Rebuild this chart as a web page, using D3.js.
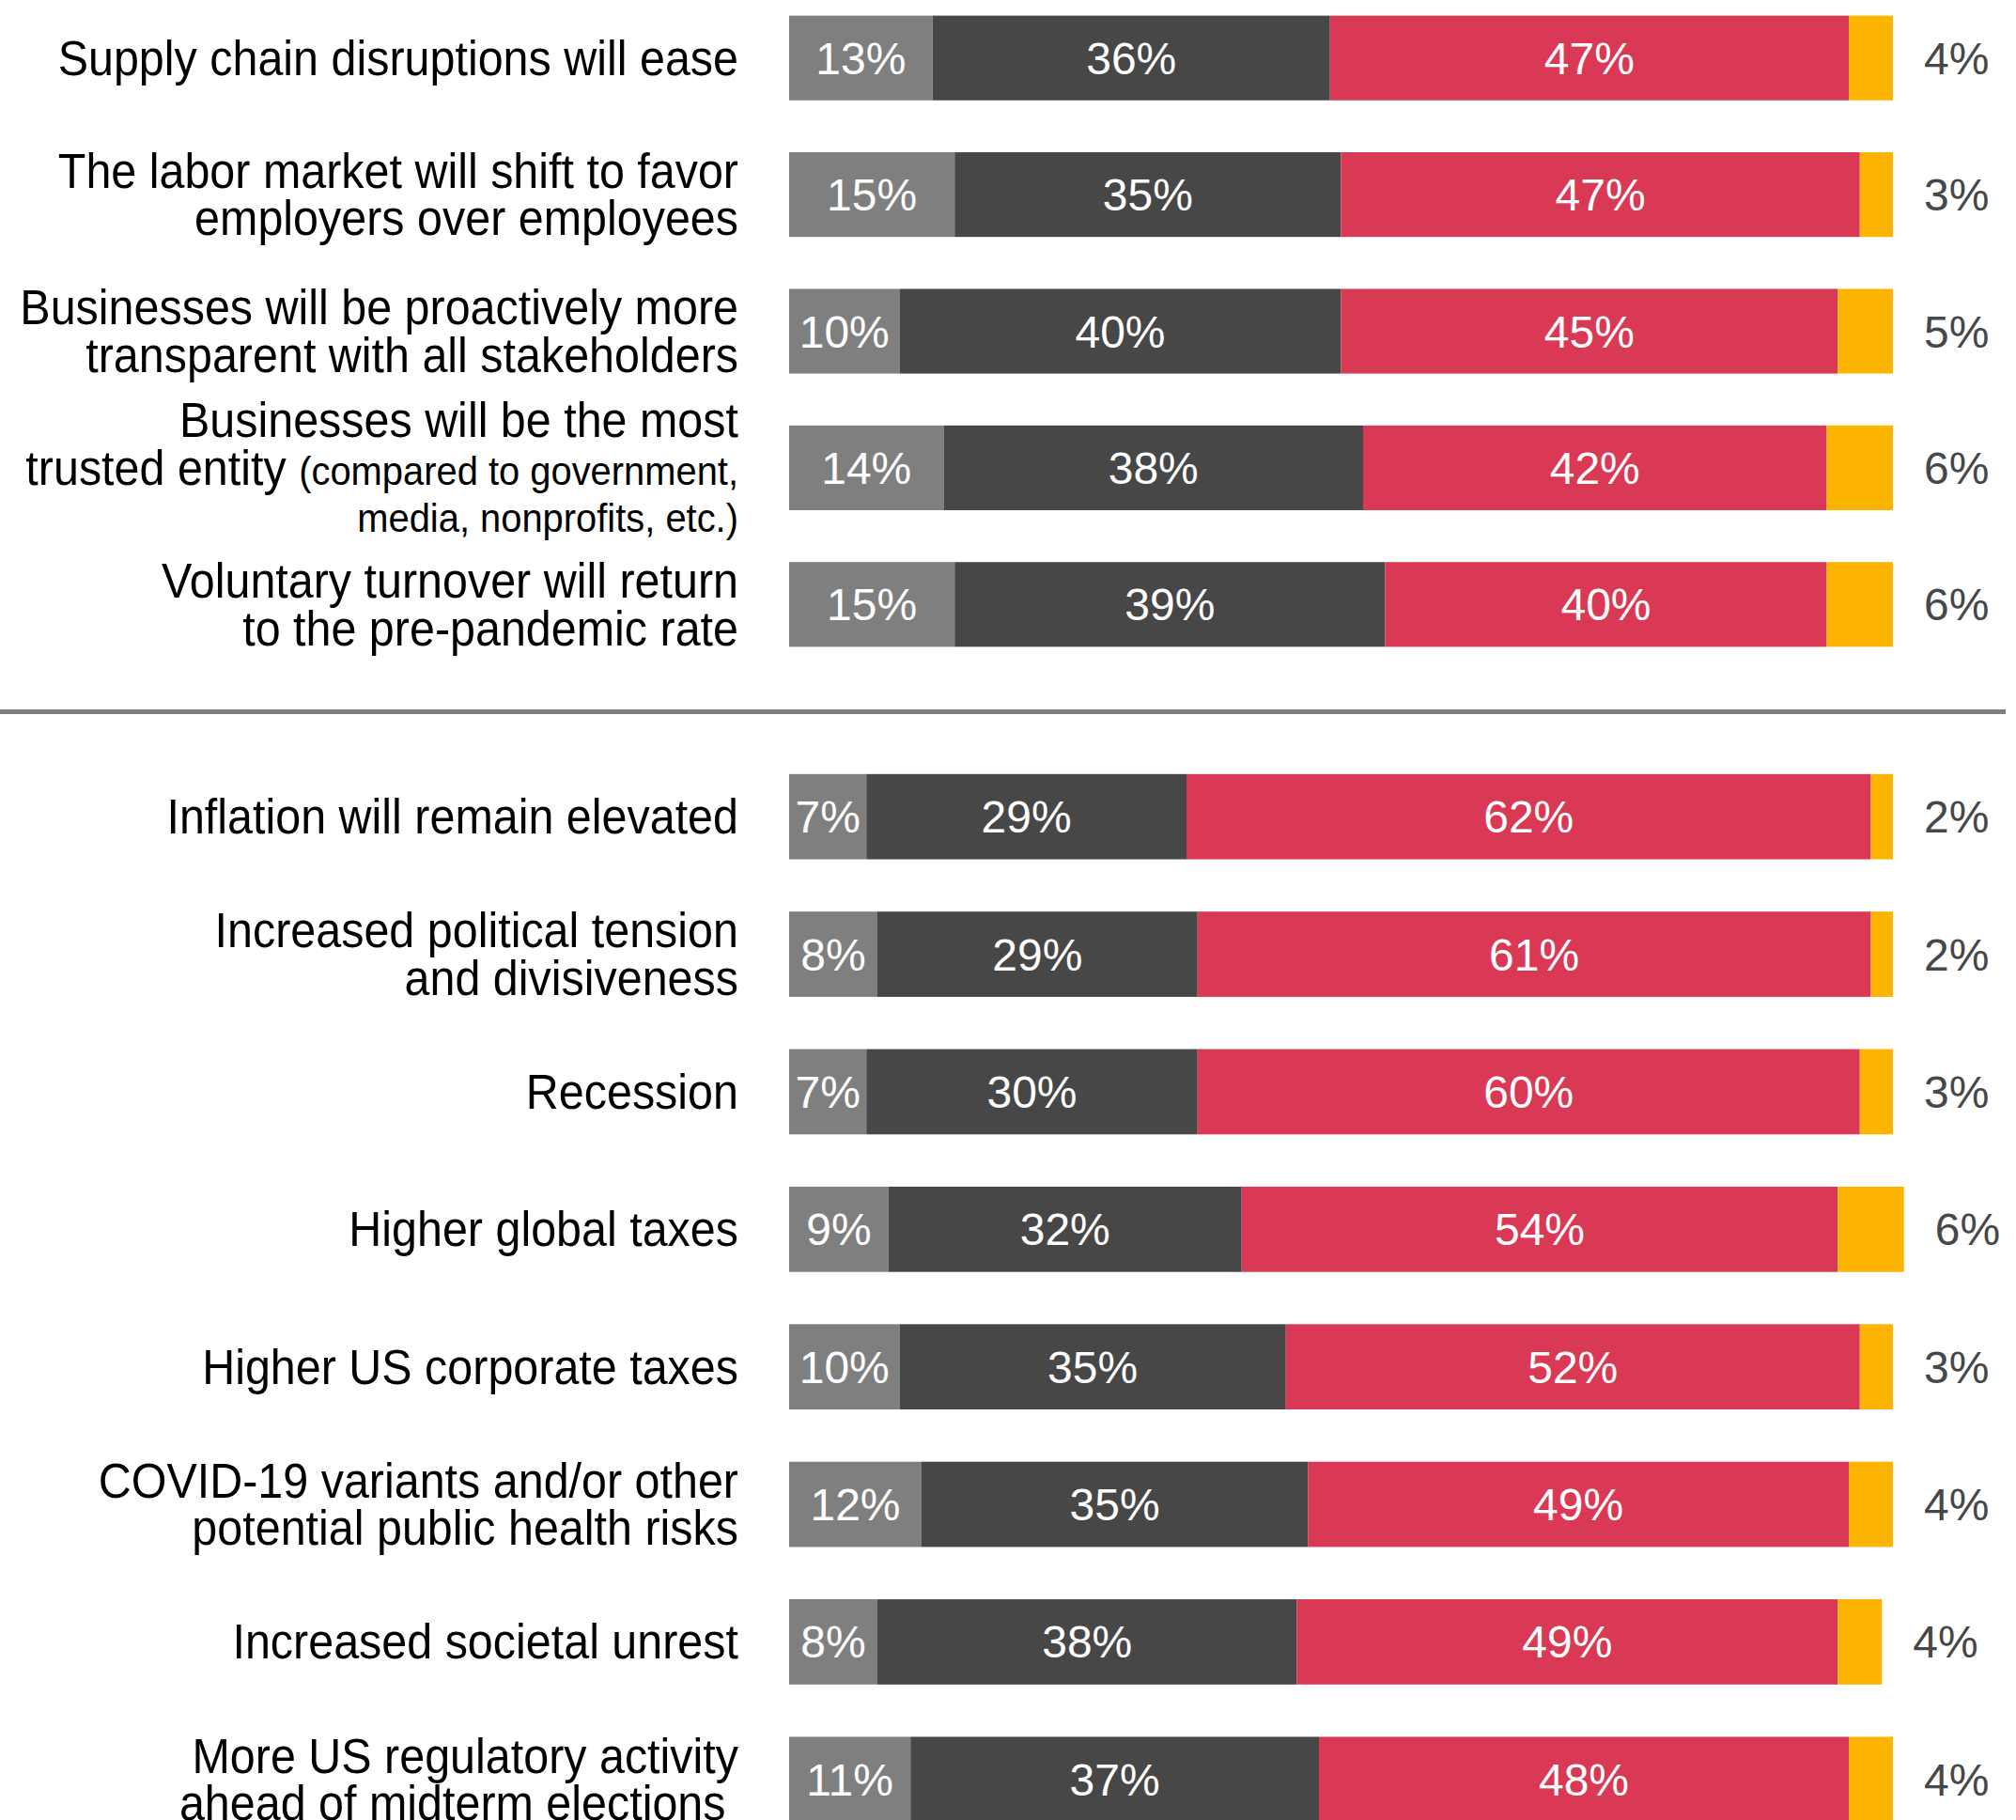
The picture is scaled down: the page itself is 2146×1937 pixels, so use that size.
<!DOCTYPE html>
<html>
<head>
<meta charset="utf-8">
<script src="https://cdn.jsdelivr.net/npm/d3@7"></script>
<style>
  body { margin: 0; background: #fff; }
  svg { display: block; }
</style>
</head>
<body>
<div id="chart"></div>
<script>
// labels: "|" breaks a line, [..] is set in the smaller font
const categories = [
  "Supply chain disruptions will ease",
  "The labor market will shift to favor|employers over employees",
  "Businesses will be proactively more|transparent with all stakeholders",
  "Businesses will be the most|trusted entity [(compared to government,]|[media, nonprofits, etc.)]",
  "Voluntary turnover will return|to the pre-pandemic rate",
  "Inflation will remain elevated",
  "Increased political tension|and divisiveness",
  "Recession",
  "Higher global taxes",
  "Higher US corporate taxes",
  "COVID-19 variants and/or other|potential public health risks",
  "Increased societal unrest",
  "More US regulatory activity|ahead of midterm elections\u00a0"
];
const groupOf = [0, 0, 0, 0, 0, 1, 1, 1, 1, 1, 1, 1, 1];

const lowValues    = [13, 15, 10, 14, 15, 7, 8, 7, 9, 10, 12, 8, 11];
const midValues    = [36, 35, 40, 38, 39, 29, 29, 30, 32, 35, 35, 38, 37];
const highValues   = [47, 47, 45, 42, 40, 62, 61, 60, 54, 52, 49, 49, 48];
const unsureValues = [4, 3, 5, 6, 6, 2, 2, 3, 6, 3, 4, 4, 4];

const keys = ["low", "mid", "high", "unsure"];
const colors = { low: "#7f7f7f", mid: "#474747", high: "#d93954", unsure: "#fdb400" };

const W = 2146, H = 1937;
const font = "'Liberation Sans', Arial, sans-serif";
const labelRight = 786;
const squeeze = 0.95; // category labels are set slightly condensed

const table = categories.map((c, i) => ({
  cat: c, group: groupOf[i],
  low: lowValues[i], mid: midValues[i], high: highValues[i], unsure: unsureValues[i]
}));

const series = d3.stack().keys(keys)(table);

const svg = d3.select("#chart").append("svg")
  .attr("width", W)
  .attr("height", H);

const x = d3.scaleLinear().domain([0, 100]).range([840, 2015]);

const yTop = d3.scaleBand()
  .domain(table.filter(d => d.group === 0).map(d => d.cat))
  .range([-11, 716])
  .paddingInner(0.38)
  .paddingOuter(0.19);

const yBottom = d3.scaleBand()
  .domain(table.filter(d => d.group === 1).map(d => d.cat))
  .range([796, 1967])
  .paddingInner(0.38)
  .paddingOuter(0.19);

const yOf = d => (d.group === 0 ? yTop : yBottom);
const yPos = d => yOf(d)(d.cat);
const bandH = d => yOf(d).bandwidth();
const yMid = d => yPos(d) + bandH(d) / 2;

// stacked segments
const layer = svg.selectAll("g.layer")
  .data(series)
  .join("g")
  .attr("class", "layer")
  .attr("fill", s => colors[s.key]);

layer.selectAll("rect")
  .data(s => s)
  .join("rect")
  .attr("x", d => x(d[0]))
  .attr("width", d => x(d[1]) - x(d[0]))
  .attr("y", d => yPos(d.data))
  .attr("height", d => bandH(d.data));

// value labels inside the first three segments
series.slice(0, 3).forEach(s => {
  svg.append("g").selectAll("text")
    .data(s)
    .join("text")
    .attr("x", d => (x(d[0]) + x(d[1])) / 2)
    .attr("y", d => yMid(d.data) + 17)
    .attr("text-anchor", "middle")
    .attr("fill", "#fff")
    .style("font-family", font)
    .style("font-size", "48px")
    .text(d => (d[1] - d[0]) + "%");
});

// last segment is labelled outside the bar
svg.append("g").selectAll("text")
  .data(series[3])
  .join("text")
  .attr("x", d => x(d[1]) + 33)
  .attr("y", d => yMid(d.data) + 17)
  .attr("fill", "#474747")
  .style("font-family", font)
  .style("font-size", "48px")
  .text(d => (d[1] - d[0]) + "%");

// category labels
const lineGap = 50.5;
const labels = svg.append("g").selectAll("text")
  .data(table)
  .join("text")
  .attr("transform", `translate(${labelRight},0) scale(${squeeze},1)`)
  .attr("text-anchor", "end")
  .attr("fill", "#000")
  .style("font-family", font)
  .style("font-size", "51px");

labels.each(function (d) {
  const lines = d.cat.split("|");
  const t = d3.select(this);
  lines.forEach((line, i) => {
    const base = yMid(d) + 18 + (i - (lines.length - 1) / 2) * lineGap;
    const parts = line.split(/(\[[^\]]*\])/).filter(p => p.length);
    parts.forEach((p, j) => {
      const small = p.startsWith("[");
      const ts = t.append("tspan")
        .text(small ? p.slice(1, -1) : p)
        .style("font-size", small ? "42px" : "51px");
      if (j === 0) ts.attr("x", 0).attr("y", base);
    });
  });
});

// divider between the two groups
svg.append("line")
  .attr("x1", 0)
  .attr("x2", 2135)
  .attr("y1", 757.5)
  .attr("y2", 757.5)
  .attr("stroke", "#7f7f7f")
  .attr("stroke-width", 5);
</script>
</body>
</html>
